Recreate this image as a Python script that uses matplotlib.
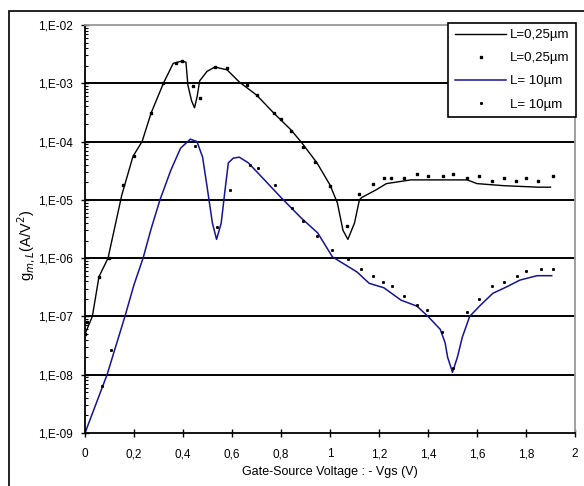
import matplotlib
matplotlib.use("Agg")
import matplotlib.pyplot as plt
from matplotlib.ticker import LogLocator, FixedLocator, NullFormatter
from matplotlib.patches import Rectangle

plt.rcParams['font.family'] = ['Liberation Sans', 'DejaVu Sans']

# L=0.25um line
black_x = [0.0, 0.03, 0.057, 0.094, 0.15, 0.196, 0.233, 0.27, 0.32, 0.36, 0.395, 0.412,
           0.42, 0.435, 0.447, 0.458, 0.468, 0.498, 0.53, 0.58, 0.63, 0.70, 0.77, 0.84,
           0.886, 0.947, 1.0, 1.03, 1.053, 1.073, 1.10, 1.12, 1.13, 1.19, 1.23, 1.33,
           1.56, 1.60, 1.71, 1.85, 1.90]
black_y = [5e-8, 1e-7, 4.8e-7, 1e-6, 1.2e-5, 5.6e-5, 1e-4, 3.1e-4, 1e-3, 2.2e-3, 2.4e-3, 2.3e-3,
           9.3e-4, 5e-4, 3.8e-4, 6e-4, 1.1e-3, 1.6e-3, 1.9e-3, 1.7e-3, 1.05e-3, 6.3e-4, 3.1e-4, 1.6e-4,
           9.4e-5, 4.3e-5, 1.8e-5, 8.9e-6, 3e-6, 2.1e-6, 4e-6, 1e-5, 1.1e-5, 1.5e-5, 1.9e-5, 2.2e-5,
           2.2e-5, 1.9e-5, 1.75e-5, 1.65e-5, 1.65e-5]

# L=0.25um markers
bdot_x = [0.0, 0.01, 0.057, 0.098, 0.155, 0.2, 0.27, 0.32, 0.37, 0.395, 0.44, 0.47, 0.53,
          0.58, 0.66, 0.70, 0.77, 0.80, 0.84, 0.89, 0.94, 1.0, 1.07, 1.12, 1.175, 1.22,
          1.25, 1.30, 1.355, 1.40, 1.46, 1.50, 1.56, 1.61, 1.66, 1.71, 1.76, 1.80, 1.85, 1.91]
bdot_y = [5e-8, 8e-8, 4.8e-7, 1e-6, 1.8e-5, 5.6e-5, 3.1e-4, 1e-3, 2.2e-3, 2.4e-3, 9e-4, 5.6e-4, 1.9e-3,
          1.8e-3, 9.3e-4, 6.3e-4, 3.1e-4, 2.4e-4, 1.5e-4, 8.1e-5, 4.5e-5, 1.75e-5, 3.5e-6, 1.25e-5, 1.9e-5, 2.4e-5,
          2.4e-5, 2.4e-5, 2.8e-5, 2.6e-5, 2.6e-5, 2.8e-5, 2.4e-5, 2.6e-5, 2.1e-5, 2.4e-5, 2.1e-5, 2.4e-5, 2.1e-5, 2.6e-5]

# L=10um line
blue_x = [0.0, 0.09, 0.163, 0.2, 0.237, 0.27, 0.306, 0.35, 0.39, 0.43, 0.457, 0.48, 0.50, 0.52, 0.537,
          0.556, 0.57, 0.585, 0.605, 0.63, 0.667, 0.72, 0.80, 0.88, 0.95, 1.01, 1.11, 1.16,
          1.22, 1.29, 1.355, 1.40, 1.45, 1.47, 1.48, 1.50, 1.52, 1.54, 1.57, 1.61, 1.665,
          1.72, 1.775, 1.845, 1.905]
blue_y = [1e-9, 1e-8, 1e-7, 3.5e-7, 1e-6, 3.2e-6, 1e-5, 3.2e-5, 7.7e-5, 1.1e-4, 1e-4, 5.4e-5, 1.5e-5, 4e-6, 2.1e-6,
          4e-6, 1.3e-5, 4.3e-5, 5.2e-5, 5.4e-5, 4.3e-5, 2.5e-5, 1.1e-5, 5e-6, 2.7e-6, 1.05e-6, 5.8e-7, 3.7e-7,
          3.1e-7, 1.9e-7, 1.5e-7, 1e-7, 6e-8, 3.5e-8, 2e-8, 1.1e-8, 2e-8, 4.4e-8, 1e-7, 1.5e-7, 2.5e-7,
          3.2e-7, 4.2e-7, 5e-7, 5e-7]

# L=10um markers
ldot_x = [0.07, 0.105, 0.45, 0.54, 0.59, 0.675, 0.705, 0.775, 0.845, 0.89, 0.947, 1.01, 1.075,
          1.125, 1.175, 1.215, 1.255, 1.30, 1.355, 1.395, 1.457, 1.50, 1.56, 1.61, 1.66, 1.71,
          1.765, 1.80, 1.86, 1.91]
ldot_y = [6.3e-9, 2.7e-8, 8.4e-5, 3.4e-6, 1.5e-5, 4e-5, 3.5e-5, 1.8e-5, 7.2e-6, 4.4e-6, 2.4e-6, 1.4e-6, 9.5e-7,
          6.6e-7, 5e-7, 3.9e-7, 3.3e-7, 2.2e-7, 1.6e-7, 1.3e-7, 5.4e-8, 1.3e-8, 1.2e-7, 2e-7, 3.3e-7, 3.9e-7,
          5e-7, 6e-7, 6.6e-7, 6.6e-7]

x_ticks = [0, 0.2, 0.4, 0.6, 0.8, 1, 1.2, 1.4, 1.6, 1.8, 2]
x_labels = ["0", "0,2", "0,4", "0,6", "0,8", "1", "1,2", "1,4", "1,6", "1,8", "2"]
y_ticks = [1e-9, 1e-8, 1e-7, 1e-6, 1e-5, 1e-4, 1e-3, 1e-2]
y_labels = ["1,E-09", "1,E-08", "1,E-07", "1,E-06", "1,E-05", "1,E-04", "1,E-03", "1,E-02"]
legend_labels = ["L=0,25µm", "L=0,25µm", "L= 10µm", "L= 10µm"]

W, H = 584, 486
fig = plt.figure(figsize=(W / 100, H / 100), dpi=100)
ax = fig.add_axes([85 / W, 1 - 433 / H, (575 - 85) / W, (433 - 25) / H])

blue = '#141496'
l1, = ax.plot(black_x, black_y, color='black', lw=1.0)
l2, = ax.plot(bdot_x, bdot_y, ls='none', marker='s', ms=2.1, color='black')
l3, = ax.plot(blue_x, blue_y, color=blue, lw=1.1)
l4, = ax.plot(ldot_x, ldot_y, ls='none', marker='s', ms=1.1, color='black')

ax.set_yscale('log')
ax.set_xlim(0, 2)
ax.set_ylim(1e-9, 1e-2)

for yt in y_ticks[1:-1]:
    ax.axhline(yt, color='black', lw=1.4, zorder=0)

ax.set_xticks(x_ticks)
ax.set_xticklabels(x_labels)
ax.yaxis.set_major_locator(FixedLocator(y_ticks))
ax.set_yticklabels(y_labels)
ax.yaxis.set_minor_locator(LogLocator(base=10, subs=range(2, 10), numticks=20))
ax.yaxis.set_minor_formatter(NullFormatter())

ax.tick_params(axis='both', which='major', direction='inout', length=6, width=1.0,
               labelsize=8.5, colors='black')
ax.tick_params(axis='y', which='minor', direction='in', length=2.5, width=0.8)
ax.tick_params(axis='x', which='major', pad=8)
ax.tick_params(axis='y', which='major', pad=5.5)

ax.spines['left'].set_linewidth(1.3)
ax.spines['bottom'].set_linewidth(1.3)
ax.spines['top'].set_color('#999999')
ax.spines['right'].set_color('#999999')
ax.spines['top'].set_linewidth(1.3)
ax.spines['right'].set_linewidth(1.3)

ax.set_xlabel("Gate-Source Voltage : - Vgs (V)", fontsize=9, labelpad=4)
ax.set_ylabel(r"g$_{m,L}$(A/V$^{2}$)", fontsize=10.5)
ax.yaxis.set_label_coords(-0.098, 0.46)

leg = ax.legend([l1, l2, l3, l4], legend_labels, loc='upper right',
                bbox_to_anchor=(1.003, 1.006), fontsize=9.5, frameon=True, fancybox=False,
                borderaxespad=0, handlelength=3.9, labelspacing=0.82, borderpad=0.5,
                handletextpad=0.3, markerscale=1.0)
leg.get_frame().set_edgecolor('black')
leg.get_frame().set_linewidth(1.2)
leg.get_frame().set_alpha(1)

fig.patches.append(Rectangle((9 / W, -0.1), 2.0, 1 - 11 / H + 0.1, transform=fig.transFigure,
                             fill=False, edgecolor='black', lw=1.2))

fig.savefig("out.png", dpi=100)
